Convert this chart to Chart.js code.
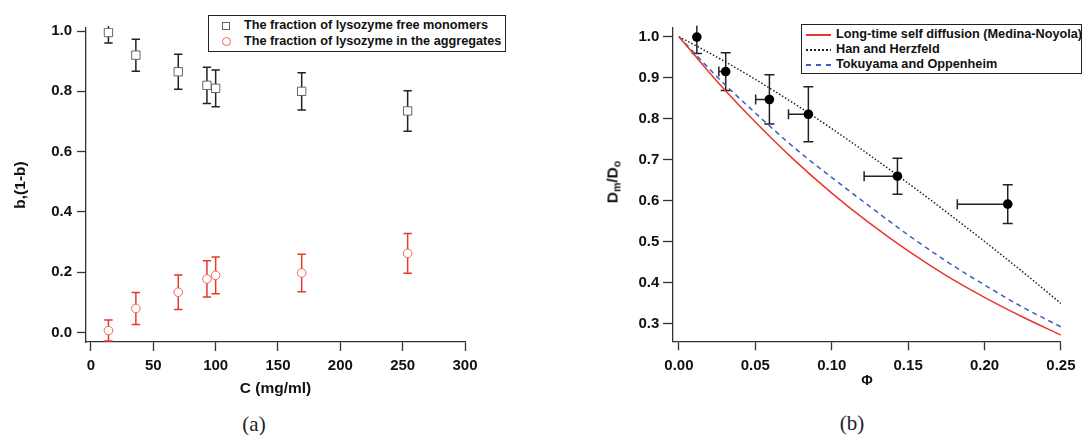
<!DOCTYPE html>
<html>
<head>
<meta charset="utf-8">
<script src="https://cdn.jsdelivr.net/npm/chart.js@4.4.1/dist/chart.umd.min.js"></script>
<style>
  html, body { margin: 0; padding: 0; background: #fff; }
  body { width: 1082px; height: 435px; position: relative; overflow: hidden; font-family: "Liberation Sans", Arial, sans-serif; }
  canvas { position: absolute; top: 0; }
  #chartA { left: 0; }
  #chartB { left: 560px; }
  .legend { position: absolute; border: 1.3px solid #222; background: #fff; box-sizing: border-box; font-weight: bold; font-size: 12.7px; color: #111; }
  .row { position: absolute; white-space: nowrap; line-height: 15px; }
  .sq { position: absolute; width: 8px; height: 8px; border: 1px solid #666; box-sizing: border-box; }
  .ci { position: absolute; width: 9px; height: 9px; border: 1px solid #f0675a; border-radius: 50%; box-sizing: border-box; }
  .smp { position: absolute; left: 4px; width: 25px; height: 1.5px; }
  .cap { position: absolute; font-family: "Liberation Serif", "DejaVu Serif", serif; font-size: 21px; color: #222; transform: translate(-50%, -50%); }
  #ylabB { position: absolute; left: 613px; top: 182px; transform: translate(-50%, -50%) rotate(-90deg); font: bold 15.5px "Liberation Sans", Arial, sans-serif; white-space: nowrap; color: #111; }
  #ylabB sub { font-size: 10.5px; vertical-align: -3px; }
</style>
</head>
<body>
<canvas id="chartA" width="560" height="400"></canvas>
<canvas id="chartB" width="522" height="400"></canvas>

<div class="legend" style="left:208px;top:15px;width:298px;height:37px;">
  <div class="sq" style="left:13px;top:6px;"></div>
  <div class="row" style="left:35px;top:2px;">The fraction of lysozyme free monomers</div>
  <div class="ci" style="left:13px;top:21px;"></div>
  <div class="row" style="left:35px;top:18px;">The fraction of lysozyme in the aggregates</div>
</div>

<div class="legend" style="left:801px;top:24px;width:281px;height:50px;">
  <div class="smp" style="top:9px;background:#e8382d;"></div>
  <div class="row" style="left:34px;top:2px;">Long-time self diffusion (Medina-Noyola)</div>
  <div class="smp" style="top:24px;background:repeating-linear-gradient(to right,#222 0 2px,transparent 2px 4px);"></div>
  <div class="row" style="left:34px;top:17px;">Han and Herzfeld</div>
  <div class="smp" style="top:39px;background:repeating-linear-gradient(to right,#3a5dbf 0 5px,transparent 5px 10px);"></div>
  <div class="row" style="left:34px;top:32px;">Tokuyama and Oppenheim</div>
</div>

<div id="ylabB">D<sub>m</sub>/D<sub>o</sub></div>
<div class="cap" style="left:254px;top:424px;">(a)</div>
<div class="cap" style="left:852px;top:423px;">(b)</div>

<script>
// (a) fractions vs concentration
const concA = [14, 36, 70, 93, 100, 169, 254];
const monoA = [0.995, 0.92, 0.865, 0.82, 0.81, 0.80, 0.735];
const monoErrA = [0.035, 0.053, 0.058, 0.06, 0.061, 0.062, 0.067];
const aggA = [0.007, 0.08, 0.134, 0.178, 0.19, 0.198, 0.263];
const aggErrA = [0.035, 0.053, 0.057, 0.06, 0.061, 0.062, 0.066];
const xTicksA = [0, 50, 100, 150, 200, 250, 300];
const yTicksA = [0, 0.2, 0.4, 0.6, 0.8, 1.0];

// (b) Dm/Do vs volume fraction
const phiB = [0.0117, 0.0306, 0.0592, 0.0847, 0.143, 0.2152];
const dB = [0.999, 0.915, 0.847, 0.811, 0.660, 0.592];
const dErrB = [0.04, 0.046, 0.06, 0.067, 0.044, 0.047];
const phiErrB = [0, 0.0045, 0.009, 0.013, 0.0218, 0.033];   // only drawn to the left
const phiGrid = [0, 0.025, 0.05, 0.075, 0.1, 0.125, 0.15, 0.175, 0.2, 0.225, 0.25];
const medinaB = [1.0, 0.891, 0.792, 0.701, 0.619, 0.545, 0.478, 0.418, 0.365, 0.317, 0.273];
const hanB = [1.0, 0.95, 0.896, 0.838, 0.776, 0.711, 0.643, 0.573, 0.501, 0.427, 0.35];
const tokuB = [1.0, 0.902, 0.814, 0.731, 0.657, 0.586, 0.517, 0.453, 0.395, 0.341, 0.293];
const xTicksB = [0, 0.05, 0.1, 0.15, 0.2, 0.25];
const yTicksB = [0.3, 0.4, 0.5, 0.6, 0.7, 0.8, 0.9, 1.0];

const pts = (xs, ys) => xs.map((v, i) => ({x: v, y: ys[i]}));
const tickFont = {family: 'Liberation Sans', weight: 'bold', size: 15};

// error bars, drawn under the markers
const errorBars = {
    id: 'errorBars',
    beforeDatasetsDraw(chart) {
        const {ctx, chartArea} = chart;
        const x = chart.scales.x, y = chart.scales.y;
        ctx.save();
        ctx.beginPath();
        ctx.rect(chartArea.left - 40, chartArea.top - 2, chartArea.width + 80, chartArea.height + 4);
        ctx.clip();
        chart.data.datasets.forEach(ds => {
            if (!ds.errY) return;
            ctx.strokeStyle = ds.errColor;
            ctx.lineWidth = 1.5;
            const cap = ds.capHalf;
            ds.data.forEach((p, i) => {
                const px = x.getPixelForValue(p.x);
                const py = y.getPixelForValue(p.y);
                const top = y.getPixelForValue(p.y + ds.errY[i]);
                const bot = y.getPixelForValue(p.y - ds.errY[i]);
                ctx.beginPath();
                ctx.moveTo(px, top); ctx.lineTo(px, bot);
                ctx.moveTo(px - cap, top); ctx.lineTo(px + cap, top);
                ctx.moveTo(px - cap, bot); ctx.lineTo(px + cap, bot);
                if (ds.errXLeft && ds.errXLeft[i] > 0) {
                    const left = x.getPixelForValue(p.x - ds.errXLeft[i]);
                    ctx.moveTo(left, py); ctx.lineTo(px, py);
                    ctx.moveTo(left, py - cap); ctx.lineTo(left, py + cap);
                }
                ctx.stroke();
            });
        });
        ctx.restore();
    }
};

function axis(min, max, tickVals, fmt, tickLen, pad, fitSize, horizontal, title) {
    const s = {
        type: 'linear', min: min, max: max,
        afterBuildTicks: sc => { sc.ticks = tickVals.map(v => ({value: v})); },
        afterFit: sc => { if (horizontal) sc.height = fitSize; else sc.width = fitSize; },
        grid: {drawOnChartArea: false, tickLength: tickLen, tickWidth: 1.3, tickColor: '#333'},
        border: {color: '#333', width: 1.3},
        ticks: {padding: pad, color: '#111', font: tickFont, callback: v => fmt(v)}
    };
    s.title = title || {display: false};
    return s;
}

new Chart(document.getElementById('chartA'), {
    type: 'scatter',
    data: {
        datasets: [{
            label: 'The fraction of lysozyme free monomers',
            data: pts(concA, monoA),
            pointStyle: 'rect', pointRadius: 5.9, borderWidth: 1,
            borderColor: '#666', backgroundColor: '#fff',
            errY: monoErrA, errColor: '#222', capHalf: 4.2
        }, {
            label: 'The fraction of lysozyme in the aggregates',
            data: pts(concA, aggA),
            pointStyle: 'circle', pointRadius: 4.3, borderWidth: 1,
            borderColor: '#f0675a', backgroundColor: '#fff',
            errY: aggErrA, errColor: '#e8392d', capHalf: 4.2
        }]
    },
    options: {
        responsive: false, animation: false, events: [],
        layout: {padding: {left: 8, top: 28, right: 95, bottom: 0}},
        plugins: {legend: {display: false}, tooltip: {enabled: false}},
        scales: {
            x: axis(-4, 300, xTicksA, v => String(v), 9, 6, 58, true,
                {display: true, text: 'C (mg/ml)', color: '#111', padding: {bottom: 2.4},
                 font: {family: 'Liberation Sans', weight: 'bold', size: 15.5}}),
            y: axis(-0.031, 1.01, yTicksA, v => v.toFixed(1), 9, 5, 78, false,
                {display: true, text: 'b,(1-b)', color: '#111', padding: {top: 3.4},
                 font: {family: 'Liberation Sans', weight: 'bold', size: 15.5}})
        }
    },
    plugins: [errorBars]
});

new Chart(document.getElementById('chartB'), {
    type: 'scatter',
    data: {
        datasets: [{
            label: 'data',
            data: pts(phiB, dB),
            pointStyle: 'circle', pointRadius: 4.8, borderWidth: 0,
            backgroundColor: '#000', borderColor: '#000',
            errY: dErrB, errXLeft: phiErrB, errColor: '#222', capHalf: 5
        }, {
            label: 'Long-time self diffusion (Medina-Noyola)',
            data: pts(phiGrid, medinaB), showLine: true, pointRadius: 0,
            borderColor: '#e8382d', borderWidth: 1.5, cubicInterpolationMode: 'monotone'
        }, {
            label: 'Han and Herzfeld',
            data: pts(phiGrid, hanB), showLine: true, pointRadius: 0,
            borderColor: '#222', borderWidth: 1.5, borderDash: [1.5, 2], cubicInterpolationMode: 'monotone'
        }, {
            label: 'Tokuyama and Oppenheim',
            data: pts(phiGrid, tokuB), showLine: true, pointRadius: 0,
            borderColor: '#3a5dbf', borderWidth: 1.5, borderDash: [5, 4], cubicInterpolationMode: 'monotone'
        }]
    },
    options: {
        responsive: false, animation: false, events: [],
        layout: {padding: {left: 53, top: 27.7, right: 18.3, bottom: 0}},
        plugins: {legend: {display: false}, tooltip: {enabled: false}},
        scales: {
            x: axis(-0.0039, 0.25, xTicksB, v => v.toFixed(2), 9, 6.5, 58.7, true,
                {display: true, text: 'Φ', color: '#111', padding: {bottom: 10},
                 font: {family: 'Liberation Sans', weight: 'bold', size: 14}}),
            y: axis(0.2578, 1.0219, yTicksB, v => v.toFixed(1), 10, 3.7, 60, false)
        }
    },
    plugins: [errorBars]
});
</script>
</body>
</html>
